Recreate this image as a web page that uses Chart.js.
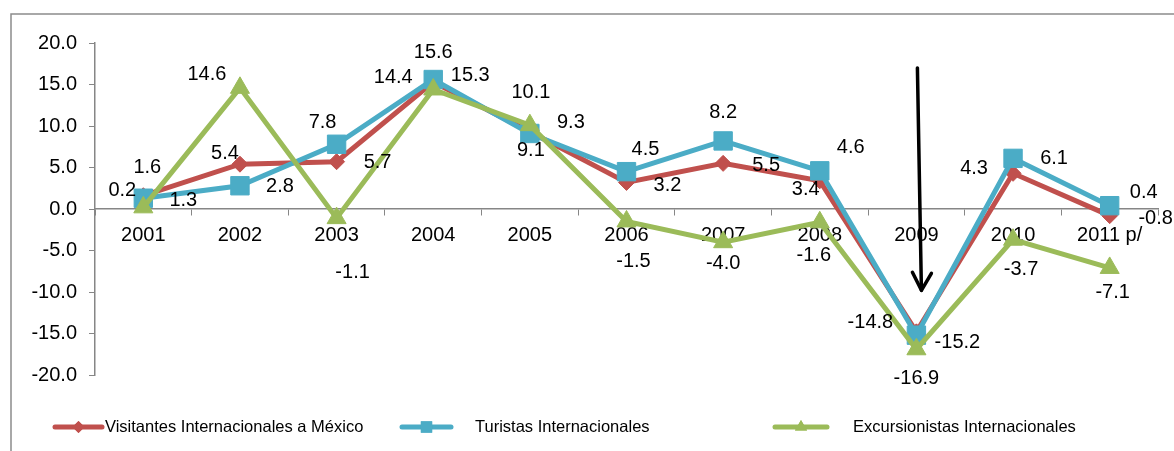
<!DOCTYPE html>
<html>
<head>
<meta charset="utf-8">
<script src="https://cdn.jsdelivr.net/npm/chart.js@4/dist/chart.umd.min.js"></script>
<style>
body { margin: 0; background: #fff; }
#wrap { width: 1174px; height: 451px; position: relative; }
</style>
</head>
<body>
<div id="wrap"><canvas id="myChart" width="1174" height="451"></canvas></div>
<script>
// Categories
var years = ["2001", "2002", "2003", "2004", "2005", "2006", "2007", "2008", "2009", "2010", "2011 p/"];

// Series (percent change)
var visitantes = [1.6, 5.4, 5.7, 15.3, 9.3, 3.2, 5.5, 3.4, -14.8, 4.3, -0.8];
var turistas = [1.3, 2.8, 7.8, 15.6, 9.1, 4.5, 8.2, 4.6, -15.2, 6.1, 0.4];
var excursionistas = [0.2, 14.6, -1.1, 14.4, 10.1, -1.5, -4.0, -1.6, -16.9, -3.7, -7.1];

var seriesNames = ["Visitantes Internacionales a M\u00e9xico", "Turistas Internacionales", "Excursionistas Internacionales"];

// Y axis range
var yMin = -20;
var yMax = 20;
var yStep = 5;

// Arrow annotation (category and value range)
var arrowCategory = "2009";
var arrowFrom = 17.0;
var arrowTo = -9.8;

// Data label offsets from each point (px), layout only
var visitantesLabelPos = [[4,-28],[-15,-11],[41,1],[37,-7],[41,-9],[41,3],[43,2],[-14,9],[-46,-9],[-39,-5],[46,3]];
var turistasLabelPos = [[40,2],[40,1],[-14,-22],[0,-27],[1,17],[19,-22],[0,-28],[31,-23],[41,7],[41,0],[34,-13]];
var excursionistasLabelPos = [[-21,-17],[-33,-13],[16,54],[-40,-12],[1,-33],[7,40],[0,21],[-6,33],[0,29],[8,30],[3,25]];

var RED = "#C0504D";
var BLUE = "#4BACC6";
var GREEN = "#9BBB59";
var AXIS = "#868686";
var FONT = "'Liberation Sans', Arial, sans-serif";

// Frame round the chart
var framePlugin = {
    id: "frame",
    beforeDraw: function(chart) {
        var c = chart.ctx;
        c.save();
        c.strokeStyle = "#8c8c8c";
        c.lineWidth = 1.5;
        c.beginPath();
        c.moveTo(11, chart.height);
        c.lineTo(11, 14);
        c.lineTo(chart.width, 14);
        c.stroke();
        c.restore();
    }
};

// Data labels
var labelPlugin = {
    id: "valueLabels",
    afterDatasetsDraw: function(chart) {
        var c = chart.ctx;
        c.save();
        c.font = "20px " + FONT;
        c.fillStyle = "#000";
        c.textAlign = "center";
        c.textBaseline = "middle";
        chart.data.datasets.forEach(function(ds, di) {
            var meta = chart.getDatasetMeta(di);
            meta.data.forEach(function(pt, i) {
                var off = ds.labelPos[i];
                c.fillText(ds.data[i].toFixed(1), pt.x + off[0], pt.y + off[1]);
            });
        });
        c.restore();
    }
};

// Arrow pointing at 2009
var arrowPlugin = {
    id: "arrow",
    afterDatasetsDraw: function(chart) {
        var xs = chart.scales.x;
        var ys = chart.scales.y;
        var x = xs.getPixelForValue(years.indexOf(arrowCategory));
        var y1 = ys.getPixelForValue(arrowFrom);
        var y2 = ys.getPixelForValue(arrowTo);
        var c = chart.ctx;
        c.save();
        c.strokeStyle = "#000";
        c.lineWidth = 3.5;
        c.lineCap = "round";
        c.lineJoin = "round";
        c.beginPath();
        c.moveTo(x + 1, y1);
        c.lineTo(x + 5, y2);
        c.stroke();
        c.beginPath();
        c.moveTo(x - 4, y2 - 18);
        c.lineTo(x + 5, y2);
        c.lineTo(x + 15, y2 - 17);
        c.stroke();
        c.restore();
    }
};

// Legend drawn by hand to match spacing
var legendPlugin = {
    id: "customLegend",
    afterDraw: function(chart) {
        var c = chart.ctx;
        var y = 427;
        var items = [
            { color: RED, style: "rectRot", r: 6, x1: 55, x2: 102, tx: 105, name: seriesNames[0] },
            { color: BLUE, style: "rect", r: 8, x1: 402, x2: 451, tx: 475, name: seriesNames[1] },
            { color: GREEN, style: "triangle", r: 7, x1: 775, x2: 827, tx: 853, name: seriesNames[2] }
        ];
        c.save();
        items.forEach(function(it) {
            c.strokeStyle = it.color;
            c.lineWidth = 5;
            c.lineCap = "round";
            c.beginPath();
            c.moveTo(it.x1, y);
            c.lineTo(it.x2, y);
            c.stroke();
            c.fillStyle = it.color;
            Chart.helpers.drawPoint(c, { pointStyle: it.style, radius: it.r, borderWidth: 0, rotation: 0 }, (it.x1 + it.x2) / 2, y);
            c.fill();
            c.fillStyle = "#000";
            c.font = "16.5px " + FONT;
            c.textAlign = "left";
            c.textBaseline = "middle";
            c.fillText(it.name, it.tx, y);
        });
        c.restore();
    }
};

var ctx = document.getElementById("myChart");
var myChart = new Chart(ctx, {
    type: "line",
    data: {
        labels: years,
        datasets: [{
            label: seriesNames[0],
            data: visitantes,
            labelPos: visitantesLabelPos,
            borderColor: RED,
            backgroundColor: RED,
            borderWidth: 5,
            pointStyle: "rectRot",
            pointRadius: 8,
            pointBorderWidth: 1,
            pointBorderColor: RED,
            pointBackgroundColor: RED,
            tension: 0,
            order: 2
        },
        {
            label: seriesNames[1],
            data: turistas,
            labelPos: turistasLabelPos,
            borderColor: BLUE,
            backgroundColor: BLUE,
            borderWidth: 5,
            pointStyle: "rect",
            pointRadius: 13,
            pointBorderWidth: 1,
            pointBorderColor: BLUE,
            pointBackgroundColor: BLUE,
            tension: 0,
            order: 1
        },
        {
            label: seriesNames[2],
            data: excursionistas,
            labelPos: excursionistasLabelPos,
            borderColor: GREEN,
            backgroundColor: GREEN,
            borderWidth: 5,
            pointStyle: "triangle",
            pointRadius: 11,
            pointBorderWidth: 1,
            pointBorderColor: GREEN,
            pointBackgroundColor: GREEN,
            tension: 0,
            order: 0
        }]
    },
    options: {
        responsive: false,
        animation: false,
        devicePixelRatio: 1,
        layout: {
            padding: { left: 0, top: 43, right: 16, bottom: 76 }
        },
        plugins: {
            legend: { display: false },
            tooltip: { enabled: false }
        },
        scales: {
            x: {
                position: { y: 0 },
                offset: true,
                grid: {
                    offset: true,
                    drawOnChartArea: false,
                    drawTicks: true,
                    tickLength: 6,
                    color: AXIS
                },
                border: { color: AXIS, width: 1.5 },
                ticks: {
                    color: "#000",
                    font: { family: FONT, size: 20 },
                    padding: 8,
                    maxRotation: 0,
                    autoSkip: false
                }
            },
            y: {
                min: yMin,
                max: yMax,
                grid: {
                    drawOnChartArea: false,
                    drawTicks: true,
                    tickLength: 6,
                    color: AXIS
                },
                border: { color: AXIS, width: 1.5 },
                ticks: {
                    stepSize: yStep,
                    color: "#000",
                    font: { family: FONT, size: 20 },
                    padding: 12,
                    callback: function(value) {
                        return value.toFixed(1);
                    }
                },
                afterFit: function(scale) {
                    scale.width = 95;
                }
            }
        }
    },
    plugins: [framePlugin, labelPlugin, arrowPlugin, legendPlugin]
});
</script>
</body>
</html>
